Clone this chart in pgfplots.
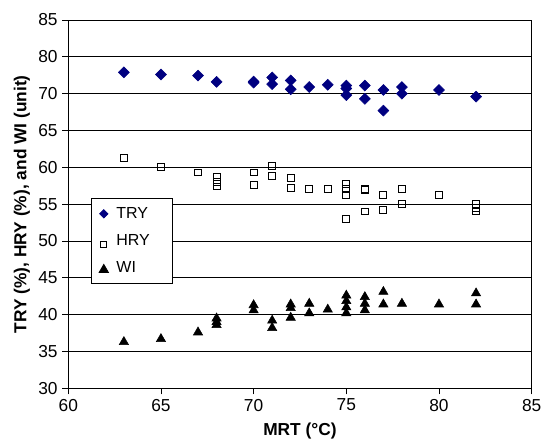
\documentclass[border=0pt]{standalone}
\usepackage{fontspec}
\setmainfont{Liberation Sans}
\usepackage{pgfplots}
\pgfplotsset{compat=1.18}
\definecolor{trynavy}{RGB}{0,0,128}
\begin{document}
\begin{tikzpicture}
\begin{axis}[
  scale only axis, width=347.5pt, height=276.2pt,
  xmin=60, xmax=85, ymin=30, ymax=80,
  xtick={60,65,...,85}, ytick={30,35,...,80},
  yticklabels={30,35,40,45,50,55,60,65,70,80,85},
  ymajorgrids, grid style={black, line width=0.6pt},
  axis line style={black, line width=0.7pt},
  tick align=outside, major tick length=4.5pt,
  tick style={black, line width=0.6pt},
  xtick pos=left, ytick pos=left,
  tick label style={font=\fontsize{13}{15}\selectfont},
  /pgf/number format/assume math mode=true,
  xlabel={MRT (°C)},
  ylabel={TRY (\%), HRY (\%), and WI (unit)},
  label style={font=\fontsize{13}{15}\selectfont\bfseries},
  xlabel style={at={(axis description cs:0.5,-0.116)}, anchor=center},
  ylabel style={at={(axis description cs:-0.1,0.5)}, anchor=center},
  legend style={at={(axis description cs:0.05,0.516)}, anchor=north west,
    draw=black, line width=0.6pt, fill=white,
    font=\fontsize{12}{14}\selectfont, row sep=6.5pt, column sep=4pt,
    inner xsep=5.5pt, inner ysep=4.5pt},
  legend cell align=left,
]
\addplot[only marks, mark=square*, mark size=2.9pt,
  mark options={rotate=45, fill=trynavy, draw=trynavy},
  legend image code/.code={\draw[trynavy, fill=trynavy, mark=square*, mark size=2.2pt,
    mark options={rotate=45}] plot coordinates {(0.15cm,0cm)};}]
  coordinates {(63,72.9)(65,72.6)(67,72.45)(68,71.6)(70,71.65)(70,71.5)(71,72.2)(71,71.3)
  (72,71.8)(72,70.6)(73,70.9)(74,71.2)(75,71.1)(75,70.7)(75,69.8)(76,71.1)(76,69.3)
  (77,70.5)(77,67.7)(78,70.9)(78,70.0)(80,70.5)(82,69.6)};
\addlegendentry{TRY\hspace*{11pt}}
\addplot[only marks, mark=square, mark size=2.6pt,
  mark options={draw=black, fill=white, line width=0.75pt},
  legend image code/.code={\draw[black, fill=white, line width=0.75pt, mark=square,
    mark size=2.4pt] plot coordinates {(0.15cm,-0.1cm)};}]
  coordinates {(63,61.3)(65,60.1)(67,59.3)(68,58.7)(68,58.0)(68,57.4)(70,59.3)(70,57.6)
  (71,60.2)(71,58.8)(72,58.6)(72,57.2)(73,57.0)(73,57.1)(74,57.0)(75,57.7)(75,57.0)
  (75,56.3)(75,53.0)(76,57.0)(76,56.9)(76,54.0)(77,56.3)(77,54.2)(78,57.1)(78,55.0)
  (80,56.2)(82,55.0)(82,54.5)(82,54.0)};
\addlegendentry{HRY}
\addplot[only marks, mark=triangle*, mark size=4pt,
  mark options={draw=black, fill=black},
  legend image code/.code={\draw[black, fill=black, mark=triangle*,
    mark size=4pt] plot coordinates {(0.15cm,-0.05cm)};}]
  coordinates {(63,36.3)(65,36.7)(67,37.6)(68,39.5)(68,39.0)(68,38.6)(70,41.3)(70,40.6)
  (71,39.2)(71,38.2)(72,41.4)(72,40.9)(72,39.6)(73,41.5)(73,40.2)(74,40.7)(75,42.6)
  (75,41.85)(75,41.0)(75,40.2)(76,42.4)(76,41.5)(76,40.6)(77,43.1)(77,41.4)(78,41.5)
  (80,41.4)(82,42.9)(82,41.4)};
\addlegendentry{WI}
\end{axis}
\pgfresetboundingbox
\path ([shift={(-51.2pt,-39.5pt)}]current axis.south west)
  rectangle ([shift={(8.5pt,15pt)}]current axis.north east);
\end{tikzpicture}
\end{document}
